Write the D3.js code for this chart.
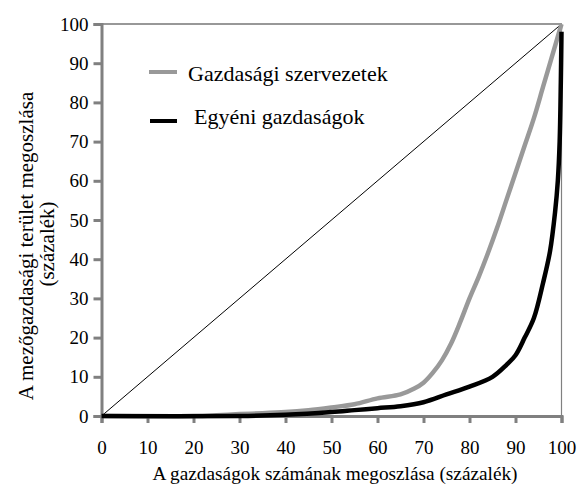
<!DOCTYPE html>
<html>
<head>
<meta charset="utf-8">
<script src="https://cdn.jsdelivr.net/npm/d3@7"></script>
<style>
  body { margin: 0; background: #fff; }
</style>
</head>
<body>
<svg id="chart" width="578" height="488" font-family="Liberation Serif"></svg>
<script>
// Adatok: Lorenz-görbék
const tickValues = [0, 10, 20, 30, 40, 50, 60, 70, 80, 90, 100];

const szervezetX = [0, 20, 25, 30, 35, 40, 45, 50, 55, 60, 65, 68, 70, 72, 74, 76, 78, 80, 82, 84, 86, 88, 90, 92, 94, 96, 98, 100];
const szervezetY = [0, 0, 0.2, 0.5, 0.7, 1, 1.5, 2.2, 3, 4.5, 5.5, 7, 8.5, 11, 14.2, 18.5, 24, 30, 35.5, 41.5, 48, 55, 62, 69, 76, 84, 92, 100];

const egyeniX = [0, 30, 40, 50, 55, 60, 65, 70, 75, 80, 85, 88, 90, 92, 94, 96, 97.5, 98.6, 99.2, 99.6, 99.85, 100];
const egyeniY = [0, 0, 0.3, 1, 1.5, 2, 2.5, 3.5, 5.5, 7.5, 10, 13, 15.5, 20, 25, 34, 42, 52, 60, 70, 85, 98];

const egyenloX = [0, 100];
const egyenloY = [0, 100];

const FONT = "Liberation Serif";

const svg = d3.select("#chart");

// skalaer
const xScale = d3.scaleLinear().domain([0, 100]).range([101.5, 561.5]);
const yScale = d3.scaleLinear().domain([0, 100]).range([416, 24]);

// tengelycímek
svg.append("text")
  .attr("x", 335).attr("y", 480)
  .attr("text-anchor", "middle").attr("font-size", 19.3)
  .attr("font-family", FONT)
  .text("A gazdaságok számának megoszlása (százalék)");

svg.append("text")
  .attr("transform", "translate(33,246) rotate(-90)")
  .attr("text-anchor", "middle").attr("font-size", 21)
  .attr("font-family", FONT)
  .text("A mezőgazdasági terület megoszlása");
svg.append("text")
  .attr("transform", "translate(54,244) rotate(-90)")
  .attr("text-anchor", "middle").attr("font-size", 21)
  .attr("font-family", FONT)
  .text("(százalék)");

// jelmagyarázat szövegei
svg.append("text").attr("x", 188).attr("y", 81).attr("font-size", 22)
  .attr("font-family", FONT).text("Gazdasági szervezetek");
svg.append("text").attr("x", 194).attr("y", 124).attr("font-size", 22)
  .attr("font-family", FONT).text("Egyéni gazdaságok");

// keret (felső és jobb oldal)
svg.append("line")
  .attr("x1", xScale(0)).attr("x2", xScale(100))
  .attr("y1", yScale(100)).attr("y2", yScale(100))
  .attr("stroke", "#333").attr("stroke-width", 1.2);
svg.append("line")
  .attr("x1", xScale(100)).attr("x2", xScale(100))
  .attr("y1", yScale(100)).attr("y2", yScale(0))
  .attr("stroke", "#808080").attr("stroke-width", 1.2);

function zip(xs, ys) {
  return xs.map(function (x, i) { return [x, ys[i]]; });
}

const line = d3.line()
  .x(function (d) { return xScale(d[0]); })
  .y(function (d) { return yScale(d[1]); })
  .curve(d3.curveCatmullRom.alpha(0.5));

// átló
svg.append("path")
  .datum(zip(egyenloX, egyenloY))
  .attr("d", d3.line().x(d => xScale(d[0])).y(d => yScale(d[1])))
  .attr("fill", "none").attr("stroke", "#000").attr("stroke-width", 1);

// tengelyek
const yAxis = d3.axisLeft(yScale).tickValues(tickValues).tickSize(8).tickPadding(5).tickFormat(d3.format("d"));
const xAxis = d3.axisBottom(xScale).tickValues(tickValues).tickSize(7).tickPadding(18).tickFormat(d3.format("d"));

const gy = svg.append("g").attr("transform", "translate(" + xScale(0) + ",0)").call(yAxis);
const gx = svg.append("g").attr("transform", "translate(0," + yScale(0) + ")").call(xAxis);

[gx, gy].forEach(function (g) {
  g.attr("font-family", FONT).attr("font-size", 19);
  g.select(".domain").attr("stroke", "#808080").attr("stroke-width", 3);
  g.selectAll(".tick line").attr("stroke", "#808080").attr("stroke-width", 3);
  g.selectAll(".tick text").attr("font-family", FONT).attr("font-size", 19).attr("fill", "#000");
});

// görbék
svg.append("path")
  .datum(zip(szervezetX, szervezetY))
  .attr("d", line)
  .attr("fill", "none").attr("stroke", "#999").attr("stroke-width", 4.5)
  .attr("stroke-linejoin", "round");

svg.append("path")
  .datum(zip(egyeniX, egyeniY))
  .attr("d", line)
  .attr("fill", "none").attr("stroke", "#000").attr("stroke-width", 4.5)
  .attr("stroke-linejoin", "round");

// jelmagyarázat vonalai
svg.append("line").attr("x1", 149).attr("x2", 177).attr("y1", 72).attr("y2", 72)
  .attr("stroke", "#999").attr("stroke-width", 4);
svg.append("line").attr("x1", 150).attr("x2", 177).attr("y1", 121).attr("y2", 121)
  .attr("stroke", "#000").attr("stroke-width", 4);
</script>
</body>
</html>
